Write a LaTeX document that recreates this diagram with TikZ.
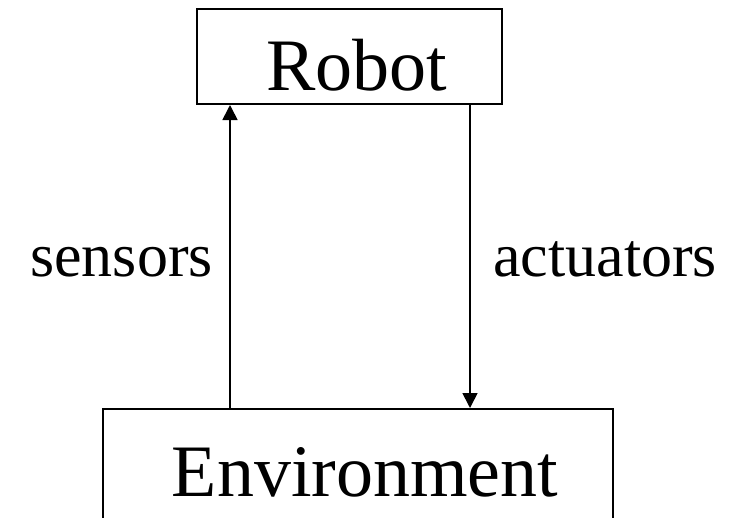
\documentclass[tikz,border=0pt]{standalone}
\usepackage{fontspec}
\setmainfont{Liberation Serif}
\usetikzlibrary{arrows.meta}
\begin{document}
\begin{tikzpicture}[x=1pt,y=-1pt,
  box/.style={draw, line width=2pt, inner sep=0pt, text depth=0pt},
  lbl/.style={inner sep=0pt, font=\fontsize{62pt}{70pt}\selectfont},
  arr/.style={line width=1.7pt, -{Triangle[length=15pt,width=15pt]}}]
\useasboundingbox (0,0) rectangle (744,517);
\fill[white] (0,0) rectangle (744,517);
\node[box, minimum width=305pt, minimum height=95pt, text height=67pt,
      font=\fontsize{74pt}{80pt}\selectfont] (robot) at (349.5,56.5) {\hspace*{14pt}Robot};
\node[box, minimum width=510pt, minimum height=123pt, text height=51pt,
      font=\fontsize{74pt}{80pt}\selectfont] (env) at (358,470.5) {\hspace*{14pt}Environment};
\coordinate (sx) at (230,0);
\coordinate (ax) at (470,0);
\draw[arr] (env.north -| sx) -- (robot.south -| sx);
\draw[arr] (robot.south -| ax) -- (env.north -| ax);
\node[lbl, anchor=base east] (sens) at (213,276) {sensors};
\node[lbl, anchor=base west] (act) at (493,276) {actuators};
\end{tikzpicture}
\end{document}
